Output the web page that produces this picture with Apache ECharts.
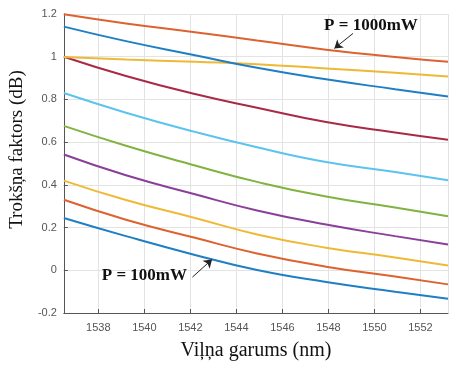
<!DOCTYPE html>
<html>
<head>
<meta charset="utf-8">
<script src="https://cdn.jsdelivr.net/npm/echarts@6/dist/echarts.min.js"></script>
<style>
  html, body { margin: 0; padding: 0; background: #fff; }
  #chart { width: 449px; height: 366px; }
</style>
</head>
<body>
<div id="chart"></div>
<script>
// wavelength samples (nm)
const wavelength = [1536.5, 1539.2, 1542.2, 1544.9, 1547.9, 1550.9, 1553.2];

// noise figure curves (dB), bottom to top at the left edge
const curve1 = [0.245, 0.160, 0.072, 0.001, -0.055, -0.100, -0.133];
const curve2 = [0.330, 0.237, 0.152, 0.079, 0.017, -0.029, -0.066];
const curve3 = [0.420, 0.329, 0.245, 0.168, 0.106, 0.060, 0.022];
const curve4 = [0.542, 0.445, 0.356, 0.280, 0.214, 0.160, 0.121];
const curve5 = [0.676, 0.583, 0.491, 0.414, 0.345, 0.294, 0.253];
const curve6 = [0.830, 0.738, 0.648, 0.576, 0.507, 0.460, 0.422];
const curve7 = [1.000, 0.910, 0.825, 0.761, 0.694, 0.645, 0.611];
const curve8 = [0.999, 0.987, 0.976, 0.965, 0.945, 0.925, 0.907];
const curve9 = [1.141, 1.073, 1.007, 0.948, 0.894, 0.848, 0.814];
const curve10 = [1.199, 1.156, 1.115, 1.076, 1.033, 0.999, 0.976];

const curves = [curve1, curve2, curve3, curve4, curve5, curve6, curve7, curve8, curve9, curve10];
const colors = ['#1f7fc4', '#dd6230', '#efb935', '#8a3f99', '#80b33f', '#5cc3ee', '#a92a44',
                '#efb935', '#1f7fc4', '#dd6230'];

// annotations
const noteText = ['P = 1000mW', 'P = 100mW'];
const noteAt = [[1549.85, 1.145], [1540.0, -0.023]];
const arrowFrom = [[1549.07, 1.109], [1542.09, -0.032]];
const arrowTo = [[1548.26, 1.039], [1542.94, 0.051]];

const chart = echarts.init(document.getElementById('chart'));

const tickFont = { color: '#555', fontSize: 11, fontFamily: 'Liberation Sans, Arial, sans-serif' };
const titleFont = { color: '#111', fontSize: 19, fontFamily: 'Liberation Serif, Times New Roman, serif' };

const series = curves.map((vals, i) => ({
  type: 'line',
  data: wavelength.map((x, j) => [x, vals[j]]),
  smooth: true,
  showSymbol: false,
  lineStyle: { color: colors[i], width: 2 },
  itemStyle: { color: colors[i] },
  z: 3
}));

series.push({
  type: 'line',
  data: [],
  markLine: {
    silent: true,
    symbol: ['none', 'arrow'],
    symbolSize: 8,
    label: { show: false },
    lineStyle: { color: '#222', width: 1, type: 'solid' },
    data: arrowFrom.map((p, i) => [{ coord: p }, { coord: arrowTo[i] }])
  },
  markPoint: {
    silent: true,
    symbol: 'rect',
    symbolSize: 1,
    itemStyle: { color: 'rgba(0,0,0,0)' },
    label: {
      show: true,
      position: 'inside',
      color: '#111',
      fontSize: 17,
      fontWeight: 'bold',
      fontFamily: 'Liberation Serif, Times New Roman, serif',
      formatter: p => p.name
    },
    data: noteText.map((t, i) => ({ name: t, coord: noteAt[i] }))
  }
});

chart.setOption({
  animation: false,
  grid: { left: 57, right: 1, top: 14, bottom: 49 },
  xAxis: {
    type: 'value',
    min: 1536.5,
    max: 1553.2,
    splitNumber: 8,
    name: 'Viļņa garums (nm)',
    nameLocation: 'middle',
    nameGap: 28,
    nameTextStyle: Object.assign({}, titleFont, { fontSize: 20 }),
    axisLine: { show: true, onZero: false, lineStyle: { color: '#555', width: 1 } },
    axisTick: { show: true, inside: true, length: 4, lineStyle: { color: '#555' } },
    axisLabel: Object.assign({
      margin: 9, showMinLabel: false, showMaxLabel: false,
      formatter: v => String(v)
    }, tickFont),
    splitLine: { show: true, lineStyle: { color: '#e3e3e3', width: 1 } }
  },
  yAxis: {
    type: 'value',
    min: -0.2,
    max: 1.2,
    interval: 0.2,
    name: 'Trokšņa faktors (dB)',
    nameLocation: 'middle',
    nameGap: 30,
    nameTextStyle: Object.assign({ padding: [0, 0, 0, 28] }, titleFont),
    axisLine: { show: true, onZero: false, lineStyle: { color: '#555', width: 1 } },
    axisTick: { show: true, inside: true, length: 4, lineStyle: { color: '#555' } },
    axisLabel: Object.assign({ margin: 7 }, tickFont),
    splitLine: { show: true, lineStyle: { color: '#e3e3e3', width: 1 } }
  },
  series: series
});
</script>
</body>
</html>
